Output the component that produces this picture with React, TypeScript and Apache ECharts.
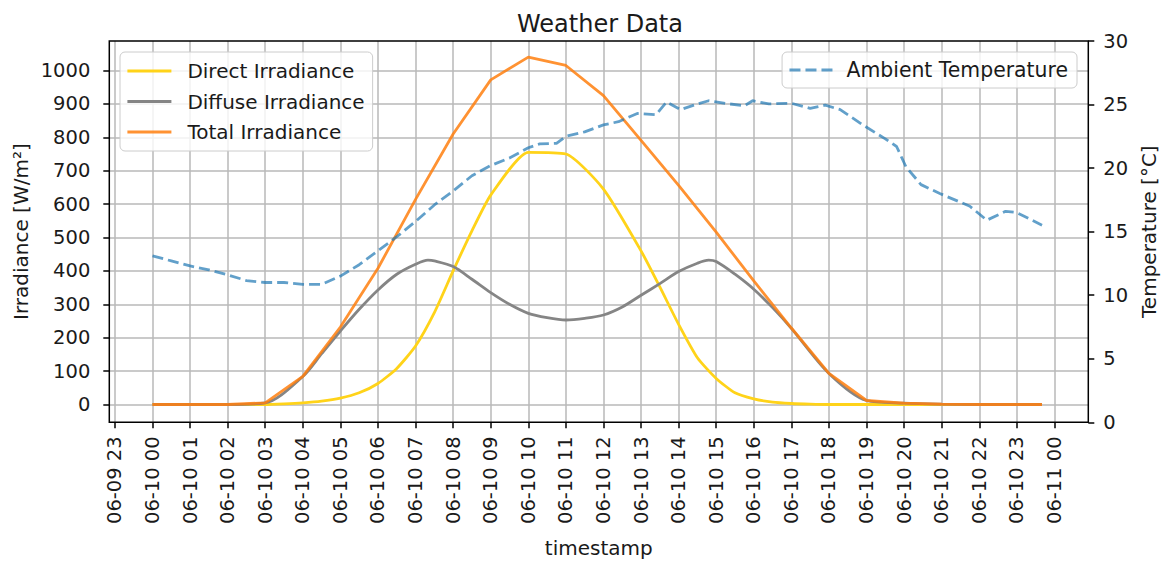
import React, { useEffect, useRef } from "react";
import * as echarts from "echarts";

// ---- data (hours after 06-10 00:00) ----
const xTickLabels = [
  "06-09 23", "06-10 00", "06-10 01", "06-10 02", "06-10 03", "06-10 04", "06-10 05",
  "06-10 06", "06-10 07", "06-10 08", "06-10 09", "06-10 10", "06-10 11", "06-10 12",
  "06-10 13", "06-10 14", "06-10 15", "06-10 16", "06-10 17", "06-10 18", "06-10 19",
  "06-10 20", "06-10 21", "06-10 22", "06-10 23", "06-11 00",
];

const totalHours = [0, 1, 2, 3, 4, 5, 6, 7, 8, 9, 10, 11, 12, 13, 14, 15, 16, 17, 18, 19, 20, 21, 22, 23, 23.67];
const totalValues = [0, 0, 0, 5, 84, 232, 408, 614, 810, 972, 1040, 1015, 925, 791, 656, 516, 370, 229, 93, 12, 4, 1, 0, 0, 0];

const directHours = [0, 1, 2, 3, 3.5, 4, 4.5, 5, 5.5, 6, 6.5, 7, 7.5, 8, 8.5, 9, 10, 11, 12, 13, 13.5, 14, 14.5, 15, 15.5, 16, 16.5, 17, 17.5, 18, 19, 20, 21, 22, 23, 23.67];
const directValues = [0, 0, 0, 0, 2, 5, 10, 19, 35, 63, 108, 175, 275, 400, 520, 627, 755, 750, 645, 460, 352, 240, 140, 78, 35, 17, 7, 3, 1, 0, 0, 0, 0, 0, 0, 0];

const diffuseHours = [0, 1, 2, 3, 4, 4.5, 5, 5.5, 6, 6.5, 7, 7.33, 7.5, 8, 8.5, 9, 9.5, 10, 10.5, 11, 11.5, 12, 12.5, 13, 13.5, 14, 14.5, 14.8, 15, 15.5, 16, 16.5, 17, 18, 19, 20, 21, 22, 23, 23.67];
const diffuseValues = [0, 0, 0, 5, 84, 152, 220, 285, 343, 390, 420, 432, 430, 413, 375, 335, 300, 273, 260, 253, 258, 268, 292, 327, 362, 398, 423, 432, 428, 390, 345, 290, 228, 93, 12, 4, 1, 0, 0, 0];

const tempHours = [0, 0.5, 1, 1.5, 2, 2.5, 3, 3.5, 4, 4.5, 5, 5.5, 6, 6.5, 7, 7.5, 8, 8.5, 9, 9.5, 10, 10.3, 10.75, 11, 11.5, 12, 12.4, 12.9, 13.4, 13.68, 14.05, 14.5, 14.8, 15.35, 15.75, 15.97, 16.4, 17, 17.5, 17.9, 18.3, 18.9, 19.5, 19.8, 20.05, 20.45, 20.95, 21.75, 22.2, 22.7, 23, 23.67];
const tempValues = [13.1, 12.7, 12.3, 12.0, 11.6, 11.15, 11.0, 11.0, 10.85, 10.85, 11.5, 12.4, 13.5, 14.6, 15.8, 17.1, 18.2, 19.4, 20.2, 20.8, 21.6, 21.9, 21.95, 22.5, 22.85, 23.4, 23.65, 24.3, 24.2, 25.2, 24.6, 25.05, 25.3, 25.05, 24.9, 25.3, 25.05, 25.1, 24.7, 24.95, 24.6, 23.4, 22.3, 21.7, 20.1, 18.7, 18.0, 17.0, 15.9, 16.6, 16.5, 15.5];

const irrTicks = { min: 0, max: 1000, step: 100 };
const tempTicks = { min: 0, max: 30, step: 5 };

const FONT = "DejaVu Sans";
const TXT = "#1a1a1a";
const GRIDC = "#b9b9b9";

const zip = (xs: number[], ys: number[]) => xs.map((x, i) => [x, ys[i]]);

export default function App() {
  const ref = useRef<HTMLDivElement>(null);
  useEffect(() => {
    if (!ref.current) return;
    const chart = echarts.init(ref.current, null, { renderer: "svg" });

    // pixel geometry of plot
    const L = 109.3, R = 1088.3, T = 41, B = 422.3;
    const W = 1162, H = 561;
    const x0px = 152.5, hourPx = 37.58; // 06-10 00 position
    const xMin = (L - x0px) / hourPx;
    const xMax = (R - x0px) / hourPx;
    const y0px = 404.5, unitPx = 0.334;
    const yMin = -(B - y0px) / unitPx;
    const yMax = (y0px - T) / unitPx;

    const lineSeries = (name: string, xs: number[], ys: number[], color: string, yIdx: number, extra: any = {}) => ({
      name,
      type: "line",
      xAxisIndex: 0,
      yAxisIndex: yIdx,
      data: zip(xs, ys),
      symbol: "none",
      showSymbol: false,
      smooth: extra.smooth ?? false,
      lineStyle: { color, width: 2.8, ...(extra.lineStyle || {}) },
      itemStyle: { color },
      z: extra.z ?? 3,
    });

    const legendBase = {
      orient: "vertical",
      itemWidth: 44,
      itemHeight: 14,
      itemGap: 10.5,
      backgroundColor: "rgba(255,255,255,0.8)",
      borderColor: "#cccccc",
      borderWidth: 1,
      borderRadius: 5,
      itemStyle: { color: "transparent", borderColor: "transparent", borderWidth: 0, opacity: 0 },
      lineStyle: { width: 2.8 },
      textStyle: { fontFamily: FONT, fontSize: 20, color: TXT, padding: [0, 0, 0, 11] },
    };

    const gridBase = { outerBoundsMode: "none", containLabel: false };

    chart.setOption({
      animation: false,
      backgroundColor: "#ffffff",
      title: {
        text: "Weather Data",
        left: 512,
        top: 7,
        textStyle: { fontFamily: FONT, fontSize: 24, fontWeight: "normal", color: TXT },
      },
      legend: [
        {
          ...legendBase,
          data: ["Direct Irradiance", "Diffuse Irradiance", "Total Irradiance"],
          left: 120,
          top: 52,
          padding: [9, 8, 9, 6],
        },
        {
          ...legendBase,
          data: ["Ambient Temperature"],
          right: W - 1077,
          top: 52,
          padding: [8, 9, 8, 6],
          textStyle: { ...legendBase.textStyle, fontSize: 20.4, padding: [0, 0, 0, 8] },
        },
      ],
      grid: [
        { ...gridBase, left: L, right: W - R, top: T, bottom: H - B, show: true, borderColor: "#000", borderWidth: 1.5, backgroundColor: "transparent", z: 4 },
        { ...gridBase, left: x0px - hourPx, right: W - (x0px + 24 * hourPx), top: T, bottom: H - B, show: false },
        { ...gridBase, left: L, right: W - R, top: y0px - irrTicks.max * unitPx, bottom: H - y0px, show: false },
      ],
      xAxis: [
        {
          type: "value", gridIndex: 0, min: xMin, max: xMax,
          axisLine: { show: false }, axisTick: { show: false }, axisLabel: { show: false }, splitLine: { show: false },
          name: "timestamp", nameLocation: "middle", nameGap: 116,
          nameTextStyle: { fontFamily: FONT, fontSize: 20, color: TXT },
        },
        {
          type: "value", gridIndex: 1, min: -1, max: 24, interval: 1,
          axisLine: { show: false },
          axisTick: { show: true, length: 6, lineStyle: { color: "#000", width: 1.5 } },
          axisLabel: {
            show: true, rotate: 90, margin: 14, fontFamily: FONT, fontSize: 19.5, color: TXT,
            formatter: (v: number) => xTickLabels[Math.round(v) + 1] ?? "",
          },
          splitLine: { show: true, lineStyle: { color: GRIDC, width: 1.5 } },
        },
        {
          type: "value", gridIndex: 2, min: 0, max: 1, show: false,
        },
      ],
      yAxis: [
        {
          type: "value", gridIndex: 0, min: yMin, max: yMax, position: "left",
          axisLine: { show: false }, axisTick: { show: false }, axisLabel: { show: false }, splitLine: { show: false },
          name: "Irradiance [W/m²]", nameLocation: "middle", nameRotate: 90, nameGap: 78,
          nameTextStyle: { fontFamily: FONT, fontSize: 20, color: TXT },
        },
        {
          type: "value", gridIndex: 0, min: tempTicks.min, max: tempTicks.max, interval: tempTicks.step, position: "right",
          axisLine: { show: false },
          axisTick: { show: true, length: 6, lineStyle: { color: "#000", width: 1.5 } },
          axisLabel: { show: true, margin: 15, fontFamily: FONT, fontSize: 19.5, color: TXT },
          splitLine: { show: false },
          name: "Temperature [°C]", nameLocation: "middle", nameRotate: 90, nameGap: 40,
          nameTextStyle: { fontFamily: FONT, fontSize: 20, color: TXT },
        },
        {
          type: "value", gridIndex: 1, min: 0, max: 1, show: false,
        },
        {
          type: "value", gridIndex: 2, min: irrTicks.min, max: irrTicks.max, interval: irrTicks.step, position: "left",
          axisLine: { show: false },
          axisTick: { show: true, length: 6, lineStyle: { color: "#000", width: 1.5 } },
          axisLabel: { show: true, margin: 19, fontFamily: FONT, fontSize: 19.5, color: TXT, formatter: (v: number) => String(v) },
          splitLine: { show: true, lineStyle: { color: GRIDC, width: 1.5 } },
        },
      ],
      series: [
        lineSeries("Direct Irradiance", directHours, directValues, "#ffd319", 0, { smooth: 0.2 }),
        lineSeries("Diffuse Irradiance", diffuseHours, diffuseValues, "#858585", 0, { smooth: 0.3 }),
        lineSeries("Total Irradiance", totalHours, totalValues, "rgba(255,127,14,0.85)", 0),
        lineSeries("Ambient Temperature", tempHours, tempValues, "rgba(31,119,180,0.7)", 1, {
          lineStyle: { type: [11, 5] },
          z: 5,
        }),
      ],
    });
    return () => chart.dispose();
  }, []);
  return <div ref={ref} style={{ position: "fixed", left: 0, top: 0, width: 1162, height: 561 }} />;
}
